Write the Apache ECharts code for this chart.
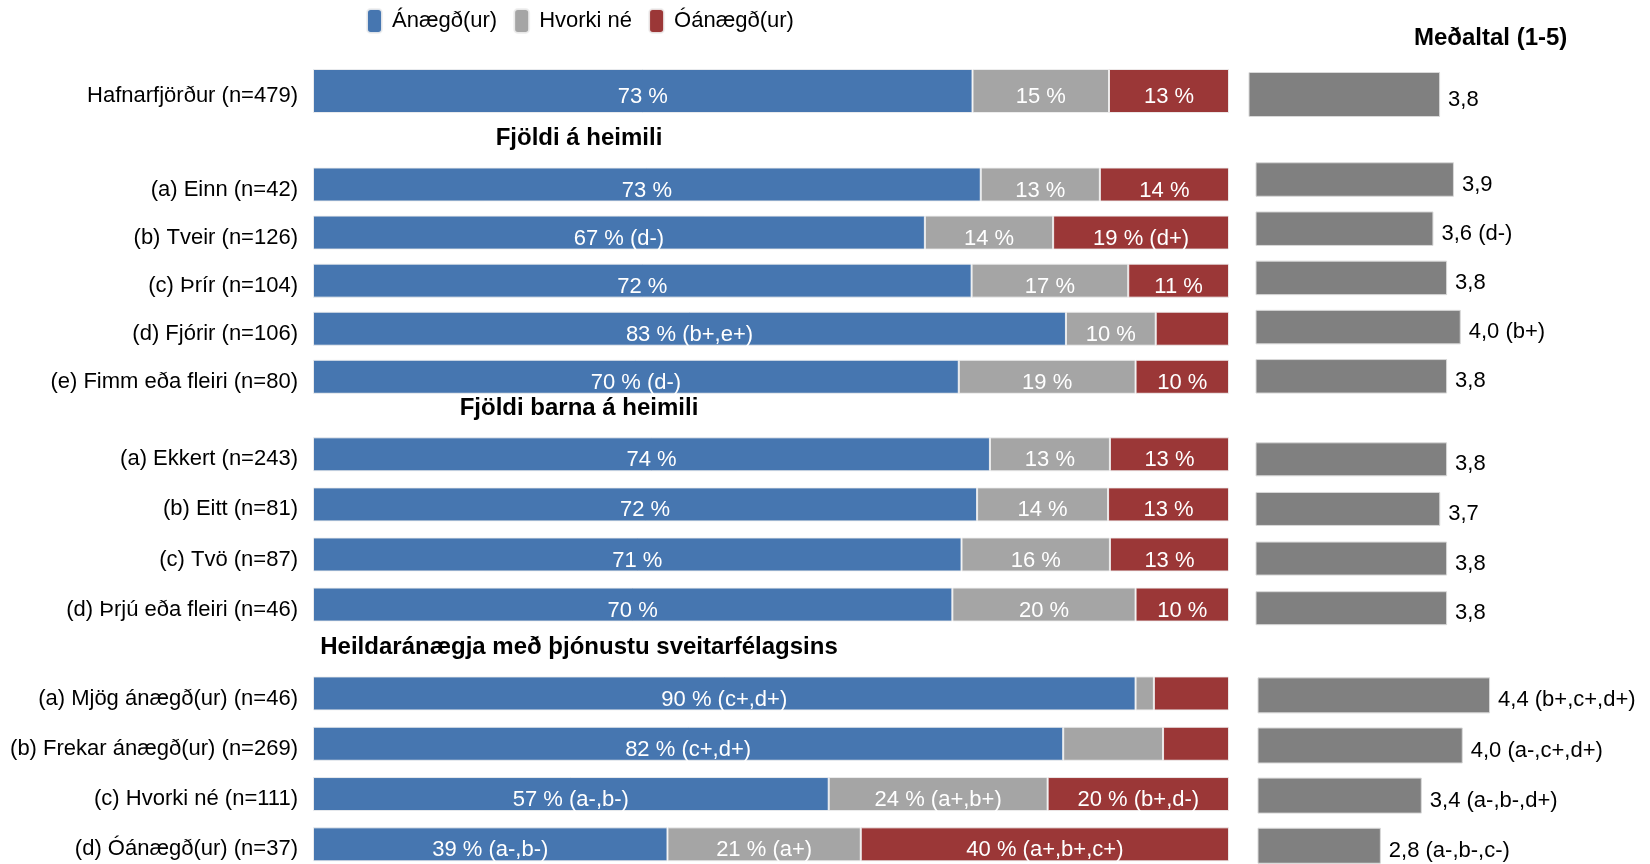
<!DOCTYPE html>
<html>
<head>
<meta charset="utf-8">
<script src="https://cdn.jsdelivr.net/npm/echarts@6/dist/echarts.min.js"></script>
<style>
html,body{margin:0;padding:0;background:#fff;}
#chart{width:1650px;height:864px;}
</style>
</head>
<body>
<div id="chart"></div>
<script>
// ---------- DATA ----------
const legendNames = ['Ánægð(ur)', 'Hvorki né', 'Óánægð(ur)'];
const sectionTitles = ['Fjöldi á heimili', 'Fjöldi barna á heimili', 'Heildaránægja með þjónustu sveitarfélagsins'];
const meanTitle = 'Meðaltal (1-5)';

const cats0 = ['Hafnarfjörður (n=479)'];
const cats1 = ['(a) Einn (n=42)', '(b) Tveir (n=126)', '(c) Þrír (n=104)', '(d) Fjórir (n=106)', '(e) Fimm eða fleiri (n=80)'];
const cats2 = ['(a) Ekkert (n=243)', '(b) Eitt (n=81)', '(c) Tvö (n=87)', '(d) Þrjú eða fleiri (n=46)'];
const cats3 = ['(a) Mjög ánægð(ur) (n=46)', '(b) Frekar ánægð(ur) (n=269)', '(c) Hvorki né (n=111)', '(d) Óánægð(ur) (n=37)'];

const sat0 = [72.0];
const neu0 = [14.9];
const dis0 = [13.1];
const sat1 = [72.9, 66.8, 71.9, 82.2, 70.5];
const neu1 = [13.0, 14.0, 17.1, 9.8, 19.3];
const dis1 = [14.1, 19.2, 11.0, 8.0, 10.2];
const sat2 = [73.9, 72.5, 70.8, 69.8];
const neu2 = [13.1, 14.3, 16.2, 20.0];
const dis2 = [13.0, 13.2, 13.0, 10.2];
const sat3 = [89.8, 81.9, 56.3, 38.7];
const neu3 = [2.0, 10.9, 23.9, 21.1];
const dis3 = [8.2, 7.2, 19.8, 40.2];

const satLbl0 = ['73 %'];
const neuLbl0 = ['15 %'];
const disLbl0 = ['13 %'];
const satLbl1 = ['73 %', '67 % (d-)', '72 %', '83 % (b+,e+)', '70 % (d-)'];
const neuLbl1 = ['13 %', '14 %', '17 %', '10 %', '19 %'];
const disLbl1 = ['14 %', '19 % (d+)', '11 %', '', '10 %'];
const satLbl2 = ['74 %', '72 %', '71 %', '70 %'];
const neuLbl2 = ['13 %', '14 %', '16 %', '20 %'];
const disLbl2 = ['13 %', '13 %', '13 %', '10 %'];
const satLbl3 = ['90 % (c+,d+)', '82 % (c+,d+)', '57 % (a-,b-)', '39 % (a-,b-)'];
const neuLbl3 = ['', '', '24 % (a+,b+)', '21 % (a+)'];
const disLbl3 = ['', '', '20 % (b+,d-)', '40 % (a+,b+,c+)'];

const mean0 = [3.8];
const mean1 = [3.9, 3.6, 3.8, 4.0, 3.8];
const mean2 = [3.8, 3.7, 3.8, 3.8];
const mean3 = [4.4, 4.0, 3.4, 2.8];
const meanLbl0 = ['3,8'];
const meanLbl1 = ['3,9', '3,6 (d-)', '3,8', '4,0 (b+)', '3,8'];
const meanLbl2 = ['3,8', '3,7', '3,8', '3,8'];
const meanLbl3 = ['4,4 (b+,c+,d+)', '4,0 (a-,c+,d+)', '3,4 (a-,b-,d+)', '2,8 (a-,b-,c-)'];

// ---------- BUILD ----------
const groups = [
  {cats: cats0, sat: sat0, neu: neu0, dis: dis0, sl: satLbl0, nl: neuLbl0, dl: disLbl0, mean: mean0, ml: meanLbl0},
  {cats: cats1, sat: sat1, neu: neu1, dis: dis1, sl: satLbl1, nl: neuLbl1, dl: disLbl1, mean: mean1, ml: meanLbl1},
  {cats: cats2, sat: sat2, neu: neu2, dis: dis2, sl: satLbl2, nl: neuLbl2, dl: disLbl2, mean: mean2, ml: meanLbl2},
  {cats: cats3, sat: sat3, neu: neu3, dis: dis3, sl: satLbl3, nl: neuLbl3, dl: disLbl3, mean: mean3, ml: meanLbl3}
];
// layout (pixels)
const stackLayout = [
  {top: 66, height: 50, bw: 44},
  {top: 160.5, height: 240.3, bw: 34},
  {top: 429.3, height: 200.3, bw: 34},
  {top: 668.3, height: 201.2, bw: 34}
];
const meanLayout = [
  {left: 1249, top: 69.5, height: 50, bw: 45},
  {left: 1256, top: 154.9, height: 246, bw: 34.5},
  {left: 1256, top: 434.5, height: 198.5, bw: 34},
  {left: 1258, top: 670.3, height: 200.5, bw: 36}
];
const FONT = '"Liberation Sans", Arial, sans-serif';
const colors = ['#4676B0', '#A5A5A5', '#9B3737'];
const meanColor = '#808080';

const grid = [], xAxis = [], yAxis = [], series = [];
groups.forEach((g, i) => {
  const sL = stackLayout[i], mL = meanLayout[i];
  // stacked grid
  grid.push({left: 313, width: 916, top: sL.top, height: sL.height, containLabel: false, outerBoundsMode: 'none'});
  xAxis.push({type: 'value', gridIndex: grid.length - 1, min: 0, max: 100, show: false});
  yAxis.push({
    type: 'category', gridIndex: grid.length - 1, data: g.cats, inverse: true,
    axisLine: {show: false}, axisTick: {show: false},
    axisLabel: {
      margin: 15,
      formatter: (v) => '{c|' + v + '}',
      rich: {c: {color: '#000', fontSize: 22, fontFamily: FONT, padding: [10, 0, 0, 0]}}
    }
  });
  const ax = xAxis.length - 1;
  const parts = [[g.sat, g.sl], [g.neu, g.nl], [g.dis, g.dl]];
  parts.forEach((p, k) => {
    series.push({
      type: 'bar', name: legendNames[k], stack: 'g' + i,
      xAxisIndex: ax, yAxisIndex: ax, barWidth: sL.bw,
      data: p[0],
      itemStyle: {color: colors[k], borderColor: 'rgba(240,240,240,0.9)', borderWidth: 1},
      label: {
        show: true, position: 'inside', color: '#fff', fontSize: 22, fontFamily: FONT,
        offset: [0, 6],
        formatter: (params) => p[1][params.dataIndex]
      },
      emphasis: {disabled: true}
    });
  });
  // mean grid
  grid.push({left: mL.left, width: 273, top: mL.top, height: mL.height, containLabel: false, outerBoundsMode: 'none'});
  xAxis.push({type: 'value', gridIndex: grid.length - 1, min: 1, max: 5, show: false});
  yAxis.push({type: 'category', gridIndex: grid.length - 1, data: g.cats, inverse: true, show: false});
  const mx = xAxis.length - 1;
  series.push({
    type: 'bar', name: 'Meðaltal', xAxisIndex: mx, yAxisIndex: mx, barWidth: mL.bw,
    data: g.mean,
    itemStyle: {color: meanColor, borderColor: '#d9d9d9', borderWidth: 1},
    label: {
      show: true, position: 'right', distance: 8, color: '#000', fontSize: 22, fontFamily: FONT,
      offset: [0, 5],
      formatter: (params) => g.ml[params.dataIndex]
    },
    emphasis: {disabled: true}
  });
});

const titleCenters = [138, 408, 647];
const title = sectionTitles.map((t, i) => ({
  text: t, left: 579, top: titleCenters[i] - 12, textAlign: 'center', padding: 0,
  textStyle: {fontSize: 24, fontWeight: 'bold', color: '#000', fontFamily: FONT}
}));
title.push({
  text: meanTitle, left: 1414, top: 26, padding: 0,
  textStyle: {fontSize: 24, fontWeight: 'bold', color: '#000', fontFamily: FONT}
});

const option = {
  animation: false,
  backgroundColor: '#fff',
  title: title,
  legend: {
    data: legendNames, left: 366, top: 8, padding: 0, itemWidth: 15, itemHeight: 24, itemGap: 16,
    icon: 'roundRect',
    textStyle: {fontSize: 22, color: '#000', fontFamily: FONT, padding: [0, 0, 0, 5]}
  },
  grid, xAxis, yAxis, series
};
const chart = echarts.init(document.getElementById('chart'), null, {renderer: 'canvas'});
chart.setOption(option);
</script>
</body>
</html>
